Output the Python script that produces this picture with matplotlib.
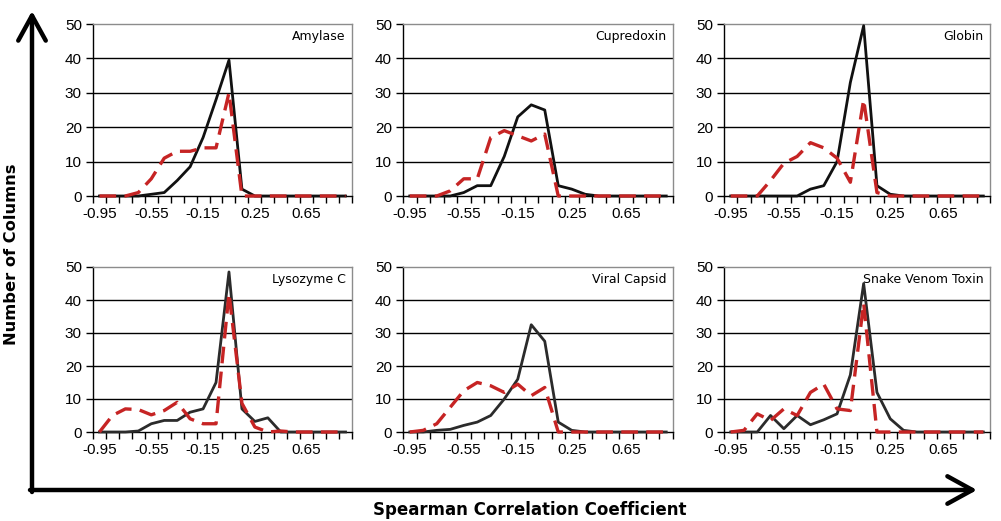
import matplotlib
matplotlib.use("Agg")
import matplotlib.pyplot as plt
import numpy as np

# category centres of the histogram bins
bins = [-0.95, -0.85, -0.75, -0.65, -0.55, -0.45, -0.35, -0.25, -0.15, -0.05,
        0.05, 0.15, 0.25, 0.35, 0.45, 0.55, 0.65, 0.75, 0.85, 0.95]
tick_labels = ["-0.95", "-0.55", "-0.15", "0.25", "0.65"]
tick_pos = [-0.95, -0.55, -0.15, 0.25, 0.65]

names = ["Amylase", "Cupredoxin", "Globin",
         "Lysozyme C", "Viral Capsid", "Snake Venom Toxin"]

amylase_black = [0, 0, 0, 0, 0.5, 1, 4.5, 8.5, 17, 28, 39.5, 2, 0, 0, 0, 0, 0, 0, 0, 0]
amylase_red = [0, 0, 0, 1, 5, 11, 13, 13, 14, 14, 30, 0, 0, 0, 0, 0, 0, 0, 0, 0]
cupredoxin_black = [0, 0, 0, 0, 1, 3, 3, 11.5, 23, 26.5, 25, 3, 2, 0.5, 0, 0, 0, 0, 0, 0]
cupredoxin_red = [0, 0, 0, 1.5, 5, 5, 17, 19, 17.5, 16, 18, 0, 0, 0, 0, 0, 0, 0, 0, 0]
globin_black = [0, 0, 0, 0, 0, 0, 2, 3, 10, 33, 49.5, 3, 0.5, 0, 0, 0, 0, 0, 0, 0]
globin_red = [0, 0, 0, 4.5, 9.5, 11.5, 15.5, 14, 11, 4, 28, 1, 0, 0, 0, 0, 0, 0, 0, 0]
lysozyme_black = [0, 0, 0, 0.3, 2.5, 3.5, 3.5, 6, 7, 15, 48.5, 7, 3.2, 4.3, 0, 0, 0, 0, 0, 0]
lysozyme_red = [0, 5, 7, 6.8, 5.2, 6.5, 9, 4, 2.5, 2.5, 42, 8.7, 1.5, 0, 0.3, 0, 0, 0, 0, 0]
viral_black = [0, 0, 0.5, 0.8, 2, 3, 5, 10, 16, 32.5, 27.5, 3, 0.5, 0, 0, 0, 0, 0, 0, 0]
viral_red = [0, 0.5, 2.5, 7.5, 12.5, 15, 14, 12, 14.5, 11, 13.5, 0, 0, 0, 0, 0, 0, 0, 0, 0]
snake_black = [0, 0, 0, 5, 1, 5, 2.2, 3.7, 5.5, 17.3, 45, 12, 4, 0.5, 0, 0, 0, 0, 0, 0]
snake_red = [0, 0.5, 5.5, 3.5, 7, 5, 12, 14.5, 7, 6.5, 39, 0, 0, 0, 0, 0, 0, 0, 0, 0]

black_series = [amylase_black, cupredoxin_black, globin_black,
                lysozyme_black, viral_black, snake_black]
red_series = [amylase_red, cupredoxin_red, globin_red,
              lysozyme_red, viral_red, snake_red]

W, H = 1001, 521
fig = plt.figure(figsize=(W / 100, H / 100), dpi=100)
fig.patch.set_facecolor("white")

# plot areas in pixels: left, right, top, bottom
cols = [(93, 352), (403, 673), (724, 990)]
rows = [(24, 196), (267, 432)]

for i, name in enumerate(names):
    r, c = divmod(i, 3)
    x0, x1 = cols[c]
    y0, y1 = rows[r]
    ax = fig.add_axes([x0 / W, 1 - y1 / H, (x1 - x0) / W, (y1 - y0) / H])
    ax.set_xlim(-1.0, 1.0)
    ax.set_ylim(0, 50)
    ax.set_yticks([0, 10, 20, 30, 40, 50])
    ax.set_yticklabels(["0", "10", "20", "30", "40", "50"],
                       family="Liberation Sans", fontsize=11)
    for yv in [10, 20, 30, 40]:
        ax.axhline(yv, color="black", lw=1.0, zorder=1)
    ax.set_xticks(tick_pos)
    ax.set_xticklabels(tick_labels, family="Liberation Sans", fontsize=11)
    ax.set_xticks(np.arange(-1.0, 1.001, 0.1), minor=True)
    ax.tick_params(axis="x", which="major", length=0, pad=8)
    ax.tick_params(axis="x", which="minor", length=5, width=1, direction="out")
    ax.tick_params(axis="y", length=5, width=1, direction="out", pad=3)
    for s in ["top", "right"]:
        ax.spines[s].set_color("#8c8c8c")
        ax.spines[s].set_linewidth(1)
    for s in ["left", "bottom"]:
        ax.spines[s].set_color("black")
        ax.spines[s].set_linewidth(1)
    ax.plot(bins, black_series[i], color="#111111" if r == 0 else "#2b2b2b",
            lw=2.0, zorder=3, clip_on=False)
    ax.plot(bins, red_series[i], color="#c62424", lw=2.4, dashes=(5, 2.5),
            zorder=4, clip_on=False)
    ax.text(0.975, 0.965, name, transform=ax.transAxes, ha="right", va="top",
            family="DejaVu Sans", fontsize=9)

# big axis arrows
arrow_kw = dict(arrowstyle="->,head_length=1.0,head_width=0.55", lw=3.2,
                color="black", shrinkA=0, shrinkB=0)
fig.add_artist(matplotlib.patches.FancyArrowPatch(
    (32 / W, 1 - 492 / H), (32 / W, 1 - 11 / H),
    transform=fig.transFigure, mutation_scale=18, **arrow_kw))
fig.add_artist(matplotlib.patches.FancyArrowPatch(
    (30 / W, 1 - 490 / H), (977 / W, 1 - 490 / H),
    transform=fig.transFigure, mutation_scale=18, **arrow_kw))

fig.text(12 / W, 1 - 254 / H, "Number of Columns", rotation=90,
         ha="center", va="center", family="DejaVu Sans",
         fontweight="bold", fontsize=11.7)
fig.text(530 / W, 1 - 510 / H, "Spearman Correlation Coefficient",
         ha="center", va="center", family="DejaVu Sans",
         fontweight="bold", fontsize=12)

fig.savefig("out.png", dpi=100, facecolor="white")
